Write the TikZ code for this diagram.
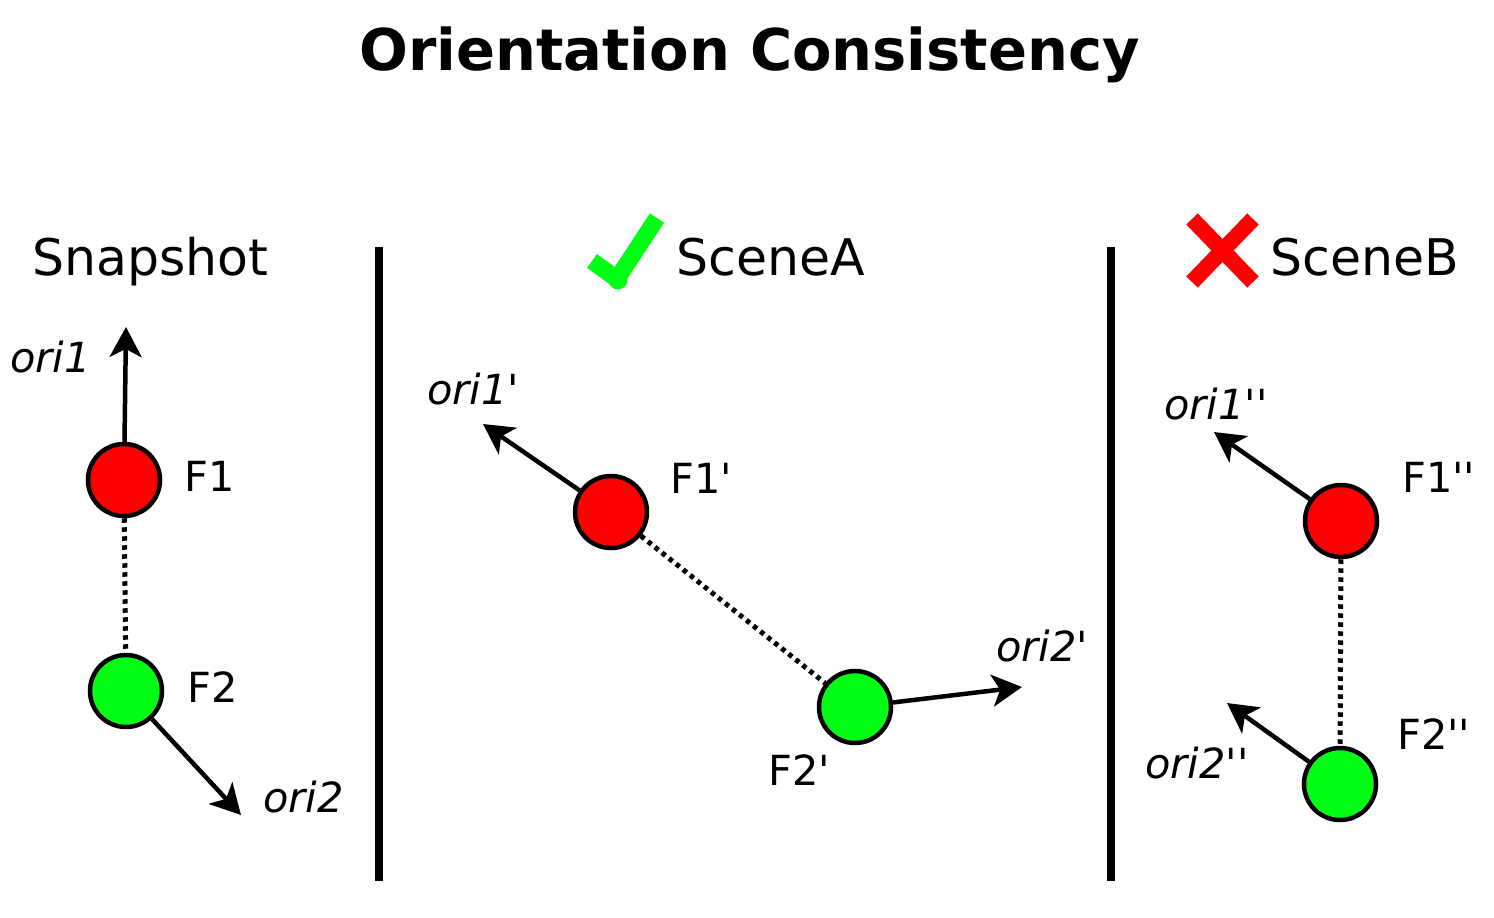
\documentclass[tikz,border=0pt]{standalone}
\usepackage{fontspec}
\setmainfont{DejaVu Sans}
\usetikzlibrary{arrows.meta}
\definecolor{fred}{RGB}{255,0,0}
\definecolor{fgreen}{RGB}{0,255,20}
\newcommand{\pq}{\textquotesingle}
\begin{document}
\begin{tikzpicture}[x=1pt,y=-1pt,
  feat/.style={circle,draw=black,line width=4.5,minimum size=72,inner sep=0},
  redf/.style={feat,fill=fred},
  greenf/.style={feat,fill=fgreen},
  lbl/.style={anchor=base west,inner sep=0,font=\fontsize{41.5}{48}\selectfont},
  olbl/.style={lbl,font=\fontsize{41.5}{48}\selectfont\itshape},
  head/.style={anchor=base west,inner sep=0,font=\fontsize{50.5}{58}\selectfont},
  arr/.style={-{Stealth[length=30,width=32,inset=8]},line width=4.5},
  link/.style={line width=5,dash pattern=on 4.5pt off 4.5pt},
  sep/.style={line width=8}]
\useasboundingbox (0,0) rectangle (1494,918);
% title
\node[anchor=base west,inner sep=0,font=\fontsize{57.5}{66}\selectfont\bfseries] (title) at (359,70) {Orientation Consistency};
% separators
\coordinate (s1a) at (379,247); \coordinate (s1b) at (379,881);
\coordinate (s2a) at (1111,247); \coordinate (s2b) at (1111,881);
\draw[sep] (s1a) -- (s1b);
\draw[sep] (s2a) -- (s2b);
% headings
\node[head] (hs) at (32,275) {Snapshot};
\node[head] (ha) at (676,275) {SceneA};
\node[head] (hb) at (1270,275) {SceneB};
% check mark
\draw[fgreen,line width=17] (592,261) -- (617,279);
\draw[fgreen,line width=17] (617,279) -- (657,218);
\fill[fgreen] (618,280) circle (9.5);
% cross
\draw[fred,line width=16] (1192,219) -- (1253,282);
\draw[fred,line width=16] (1253,219) -- (1192,282);
% Snapshot
\node[redf] (F1) at (124,480) {};
\node[greenf] (F2) at (126,691) {};
\coordinate (o1) at (126,327);
\coordinate (o2) at (241,815);
\draw[link] (F1) -- (F2);
\draw[arr] (F1) -- (o1);
\draw[arr] (F2) -- (o2);
\node[lbl] (lF1) at (184,491) {F1};
\node[lbl] (lF2) at (187,702) {F2};
\node[olbl] (lo1) at (10,372) {ori1};
\node[olbl] (lo2) at (263,812) {ori2};
% SceneA
\node[redf] (A1) at (611,512) {};
\node[greenf] (A2) at (855,707) {};
\coordinate (a1) at (483,424);
\coordinate (a2) at (1022,687);
\draw[link] (A1) -- (A2);
\draw[arr] (A1) -- (a1);
\draw[arr] (A2) -- (a2);
\node[lbl] (lA1) at (670,493) {F1\pq};
\node[lbl] (lA2) at (768,785) {F2\pq};
\node[olbl] (la1) at (427,404) {ori1\pq};
\node[olbl] (la2) at (996,661) {ori2\pq};
% SceneB
\node[redf] (B1) at (1341,521) {};
\node[greenf] (B2) at (1340,784) {};
\coordinate (b1) at (1214,432);
\coordinate (b2) at (1227,703);
\draw[link] (B1) -- (B2);
\draw[arr] (B1) -- (b1);
\draw[arr] (B2) -- (b2);
\node[lbl] (lB1) at (1402,492) {F1\pq\pq};
\node[lbl] (lB2) at (1397,749) {F2\pq\pq};
\node[olbl] (lb1) at (1164,419) {ori1\pq\pq};
\node[olbl] (lb2) at (1145,778) {ori2\pq\pq};
\end{tikzpicture}
\end{document}
